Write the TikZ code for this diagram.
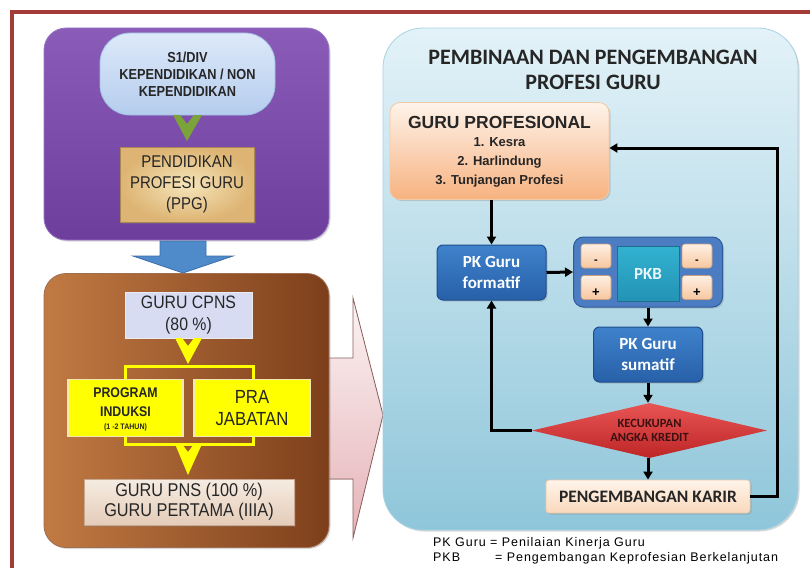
\documentclass[tikz,border=0pt]{standalone}
\usepackage{fontspec}
\setmainfont{Liberation Sans}
\newfontfamily\condf[FakeStretch=0.88]{Liberation Sans}
\newfontfamily\calibf{Carlito}
\newfontfamily\legf[LetterSpace=7.5]{Liberation Sans}
\usetikzlibrary{shapes.geometric,shadows,arrows.meta,calc}
\newcommand{\fsz}[2]{\fontsize{#1}{#2}\selectfont}
\definecolor{framered}{HTML}{A33B37}
\definecolor{txtdark}{HTML}{262626}
\definecolor{purpT}{HTML}{8A5CB8}
\definecolor{purpB}{HTML}{6D3E9C}
\definecolor{purpD}{HTML}{9676C4}
\definecolor{sT}{HTML}{DDE9F9}
\definecolor{sB}{HTML}{B5CDEE}
\definecolor{sD}{HTML}{9FBDE3}
\definecolor{greenA}{HTML}{7BA33A}
\definecolor{ppgI}{HTML}{F6E5BA}
\definecolor{ppgO}{HTML}{DDB473}
\definecolor{ppgD}{HTML}{A98853}
\definecolor{blueA}{HTML}{4F8ACB}
\definecolor{blueAD}{HTML}{3C6FA8}
\definecolor{pinkT}{HTML}{FBF3F3}
\definecolor{pinkB}{HTML}{E6B3B8}
\definecolor{pinkD}{HTML}{8E5F5F}
\definecolor{brL}{HTML}{C17A43}
\definecolor{brR}{HTML}{7D3F1B}
\definecolor{brD}{HTML}{A06E50}
\definecolor{cpnsF}{HTML}{D7DCF2}
\definecolor{cpnsD}{HTML}{ECECF0}
\definecolor{yel}{HTML}{FFFF00}
\definecolor{yelD}{HTML}{F0E8B0}
\definecolor{pnsT}{HTML}{F6ECE2}
\definecolor{pnsB}{HTML}{E4CCB8}
\definecolor{pnsD}{HTML}{C9A892}
\definecolor{panT}{HTML}{E3F2F8}
\definecolor{panB}{HTML}{8FC6DA}
\definecolor{panD}{HTML}{A9D3E3}
\definecolor{gpT}{HTML}{FEF3EA}
\definecolor{gpB}{HTML}{F7B27F}
\definecolor{gpD}{HTML}{F3C9A5}
\definecolor{bbT}{HTML}{3F82CC}
\definecolor{bbB}{HTML}{2760A8}
\definecolor{bbD}{HTML}{1F4E8C}
\definecolor{pkbF}{HTML}{4C7DC2}
\definecolor{pkbD}{HTML}{2D5A9A}
\definecolor{smT}{HTML}{FFF0E4}
\definecolor{smB}{HTML}{F7C79F}
\definecolor{smD}{HTML}{C8A080}
\definecolor{tealT}{HTML}{33B2D0}
\definecolor{tealB}{HTML}{2393B5}
\definecolor{tealD}{HTML}{1D6F8C}
\definecolor{tealTx}{HTML}{EAF6FA}
\definecolor{diaT}{HTML}{E85454}
\definecolor{diaB}{HTML}{BE2626}
\definecolor{diaTx}{HTML}{3C1010}
\definecolor{kT}{HTML}{FFF4EA}
\definecolor{kB}{HTML}{FAD9BC}
\definecolor{kD}{HTML}{E9C9AA}
\begin{document}
\begin{tikzpicture}[x=1pt,y=-1pt,
  shad/.style={drop shadow={shadow xshift=1.5pt,shadow yshift=-1.5pt,opacity=.3}},
  bigbox/.style={rounded corners=22pt,inner sep=0pt},
  lbox/.style={inner sep=0pt,align=center,text=txtdark},
  bluebox/.style={rounded corners=6pt,inner sep=0pt,align=center,text=white,
     top color=bbT,bottom color=bbB,draw=bbD,line width=1pt,shad,
     font=\calibf\bfseries\fsz{17}{21}},
  smallbox/.style={rounded corners=3pt,inner sep=0pt,minimum width=30,minimum height=24,
     top color=smT,bottom color=smB,draw=smD,line width=.6pt},
  conn/.style={line width=3pt,-{Triangle[length=8pt,width=9pt]}},
  yarrow/.style={fill=yel},
  ybrack/.style={draw=yel,line width=3pt}]
\useasboundingbox (0,0) rectangle (810,567);
\fill[white] (0,0) rectangle (810,567);
% frame
\draw[framered,line width=4pt] (12,569) -- (12,12) -- (812,12);

% ---------- left: purple box
\node[bigbox,shad,minimum width=285,minimum height=212,
  top color=purpT,bottom color=purpB,draw=purpD,line width=.8pt] (purplebox) at (186.5,134) {};
\node[lbox,rounded corners=30pt,minimum width=175,minimum height=82,
  top color=sT,bottom color=sB,draw=sD,line width=.8pt,
  font=\condf\bfseries\fsz{14.5}{17}] (s1) at (187.5,74) {S1/DIV\\KEPENDIDIKAN / NON\\KEPENDIDIKAN};
\fill[greenA] (173,115) -- (180,115) -- (187,124) -- (194,115) -- (202,115) -- (187,141) -- cycle;
\node[lbox,shad,minimum width=134,minimum height=75,
  inner color=ppgI,outer color=ppgO,draw=ppgD,line width=.8pt,
  font=\condf\fsz{17}{21}] (ppg) at (187,184.5) {PENDIDIKAN\\PROFESI GURU\\(PPG)};

% blue arrow
\filldraw[fill=blueA,draw=blueAD,line width=.8pt]
  (160,241) -- (206,241) -- (206,256) -- (233,256) -- (183,273) -- (133,256) -- (160,256) -- cycle;

% pink arrow
\filldraw[top color=pinkT,bottom color=pinkB,draw=pinkD,line width=.8pt]
  (326,358) -- (353,358) -- (353,298) -- (383,415) -- (353,538) -- (353,479) -- (326,479) -- cycle;

% brown box
\node[bigbox,shad,minimum width=285,minimum height=274,
  left color=brL,right color=brR,draw=brD,line width=.8pt] (brownbox) at (186.5,410.5) {};
\node[lbox,minimum width=127,minimum height=46,
  fill=cpnsF,draw=cpnsD,line width=1pt,
  font=\condf\fsz{18}{22}] (cpns) at (188.5,315.5) {GURU CPNS\\(80 \%)};
\fill[yarrow] (175,338) -- (182,338) -- (188,346) -- (194,338) -- (202,338) -- (188,364) -- cycle;
\draw[ybrack] (125,380) -- (125,366) -- (253,366) -- (253,380);
\draw[ybrack] (125,437) -- (125,444) -- (253,444) -- (253,437);
\fill[yarrow] (175,444) -- (182,444) -- (188,452) -- (194,444) -- (202,444) -- (188,475) -- cycle;
\node[lbox,minimum width=115,minimum height=57,fill=yel,
  draw=yelD,line width=1.2pt] (induksi) at (125.5,408) {};
\node[lbox,font=\condf\bfseries\fsz{14}{19}] (indtxt) at (125.5,402.5) {PROGRAM\\INDUKSI};
\node[lbox,font=\condf\bfseries\fsz{8}{10}] (indsmall) at (125.5,427) {(1 -2 TAHUN)};
\node[lbox,minimum width=116,minimum height=57,fill=yel,
  draw=yelD,line width=1.2pt,
  font=\condf\fsz{19}{22}] (praj) at (252,408) {PRA\\JABATAN};
\node[lbox,shad,minimum width=210,minimum height=46,
  top color=pnsT,bottom color=pnsB,draw=pnsD,line width=.8pt,
  font=\condf\fsz{18.5}{20}] (pns) at (189,502) {GURU PNS (100 \%)\\GURU PERTAMA (IIIA)};

% ---------- right panel
\node[inner sep=0pt,rounded corners=40pt,minimum width=415,minimum height=502,shad,
  top color=panT,bottom color=panB,draw=panD,line width=.8pt] (panel) at (590.5,279) {};
\node[inner sep=0pt,align=center,text=txtdark,font=\calibf\bfseries\fsz{22}{25}] (title) at (593,70)
  {PEMBINAAN DAN PENGEMBANGAN\\PROFESI GURU};

\node[inner sep=0pt,rounded corners=10pt,minimum width=219,minimum height=97,shad,
  top color=gpT,bottom color=gpB,draw=gpD,line width=.8pt] (gp) at (499.5,151) {};
\node[inner sep=0pt,text=txtdark,font=\bfseries\fsz{17.5}{20}] (gptitle) at (499.5,122) {GURU PROFESIONAL};
\node[inner sep=0pt,align=center,text=txtdark,font=\bfseries\fsz{13}{19}] (gplist) at (499.5,162.5)
  {1. Kesra\\2. Harlindung\\3. Tunjangan Profesi};

\node[bluebox,minimum width=109,minimum height=55] (formatif) at (491.5,272.5) {PK Guru\\formatif};
\node[inner sep=0pt,rounded corners=10pt,minimum width=149,minimum height=70,shad,
  fill=pkbF,draw=pkbD,line width=1pt] (pkbbox) at (648,272) {};
\node[smallbox] (tl) at (596,256) {};
\node[smallbox] (bl) at (596,287.5) {};
\node[smallbox] (tr) at (697,256) {};
\node[smallbox] (br) at (697,287.5) {};
\node[inner sep=0pt,font=\bfseries\fsz{11}{12}] (tlm) at (596,262) {-};
\node[inner sep=0pt,font=\bfseries\fsz{11}{12}] (trm) at (697,262) {-};
\node[inner sep=0pt,font=\bfseries\fsz{13}{12}] (blp) at (596,293) {+};
\node[inner sep=0pt,font=\bfseries\fsz{13}{12}] (brp) at (697,293) {+};
\node[inner sep=0pt,minimum width=62,minimum height=55,
  top color=tealT,bottom color=tealB,draw=tealD,line width=.8pt,
  text=tealTx,font=\calibf\bfseries\fsz{17}{20}] (pkb) at (648,273.5) {PKB};

\node[bluebox,minimum width=109,minimum height=55] (sumatif) at (648,354.5) {PK Guru\\sumatif};

\node[diamond,shape aspect=4.27,inner sep=0pt,minimum width=235,minimum height=55,align=center,
  top color=diaT,bottom color=diaB,
  text=diaTx,font=\calibf\bfseries\fsz{12.5}{14}] (dia) at (649.5,430.5) {KECUKUPAN\\ANGKA KREDIT};

\node[inner sep=0pt,rounded corners=3pt,minimum width=204,minimum height=33,shad,
  top color=kT,bottom color=kB,draw=kD,line width=.8pt,
  text=txtdark,font=\calibf\bfseries\fsz{17.5}{20}] (karir) at (648,496.5) {PENGEMBANGAN KARIR};

% connectors
\draw[conn] (formatif.north |- gp.south) -- (formatif.north);
\draw[conn] (formatif.east) -- (pkbbox.west);
\draw[conn] (pkbbox.south) -- (sumatif.north);
\draw[conn] (sumatif.south) -- (sumatif.south |- dia.north);
\draw[conn] (karir.north |- dia.south) -- (karir.north);
\draw[conn] (dia.west) -- (formatif.south |- dia.west) -- (formatif.south);
\coordinate (fb) at (777,148);
\draw[conn] (karir.east) -| (fb) -- (gp.east |- fb);

% legend
\node[anchor=base west,inner sep=0pt,text=black,font=\legf\fsz{12.5}{14}] (leg1) at (433,546) {PK Guru = Penilaian Kinerja Guru};
\node[anchor=base west,inner sep=0pt,text=black,font=\legf\fsz{12.5}{14}] (leg2a) at (433,561) {PKB};
\node[anchor=base west,inner sep=0pt,text=black,font=\legf\fsz{12.5}{14}] (leg2b) at (495,561) {= Pengembangan Keprofesian Berkelanjutan};
\end{tikzpicture}
\end{document}
